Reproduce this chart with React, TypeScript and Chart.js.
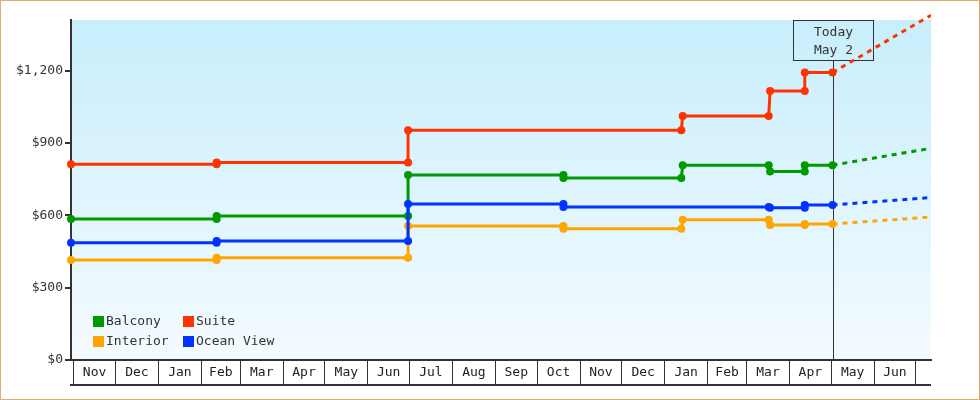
import { useEffect, useRef } from "react";
import { Chart, registerables } from "chart.js";

Chart.register(...registerables);

// price history, one date/price pair per point (jumps use two points)
const seriesLabels = ["Balcony", "Suite", "Interior", "Ocean View"];

const balconyDates = ["2016-10-30", "2017-02-12", "2017-02-12", "2017-06-30", "2017-06-30", "2017-10-20", "2017-10-20", "2018-01-13", "2018-01-14", "2018-03-17", "2018-03-18", "2018-04-12", "2018-04-12", "2018-05-02"];
const balconyPrices = [585, 585, 597, 597, 767, 767, 755, 755, 808, 808, 782, 782, 808, 808];

const suiteDates = ["2016-10-30", "2017-02-12", "2017-02-12", "2017-06-30", "2017-06-30", "2018-01-13", "2018-01-14", "2018-03-17", "2018-03-18", "2018-04-12", "2018-04-12", "2018-05-02"];
const suitePrices = [812, 812, 819, 819, 953, 953, 1012, 1012, 1116, 1116, 1192, 1192];

const interiorDates = ["2016-10-30", "2017-02-12", "2017-02-12", "2017-06-30", "2017-06-30", "2017-10-20", "2017-10-20", "2018-01-13", "2018-01-14", "2018-03-17", "2018-03-18", "2018-04-12", "2018-04-12", "2018-05-02"];
const interiorPrices = [415, 415, 424, 424, 556, 556, 544, 544, 582, 582, 560, 560, 564, 564];

const oceanDates = ["2016-10-30", "2017-02-12", "2017-02-12", "2017-06-30", "2017-06-30", "2017-10-20", "2017-10-20", "2018-03-17", "2018-03-18", "2018-04-12", "2018-04-12", "2018-05-02"];
const oceanPrices = [486, 486, 494, 494, 647, 647, 635, 635, 631, 631, 643, 643];

// dashed forecast from today to the right edge
const projectionEnd = "2018-07-12";
const projectedPrices = [878, 1430, 593, 674];

const monthLabels = ["Nov", "Dec", "Jan", "Feb", "Mar", "Apr", "May", "Jun", "Jul", "Aug", "Sep", "Oct", "Nov", "Dec", "Jan", "Feb", "Mar", "Apr", "May", "Jun"];
const firstMonth = "2016-11-01";
const axisStart = "2016-10-30";
const axisEnd = "2018-07-12";
const yTicks = [0, 300, 600, 900, 1200];
const yMax = 1410;

const todayDate = "2018-05-02";
const todayText = ["Today", "May 2"];

const colors = ["#009900", "#ff3300", "#ffa500", "#0033ff"];
const FONT = "'DejaVu Sans Mono', monospace";
const INK = "#333";

const DAY = 86400000;
const dayOf = (s: string) => (Date.parse(s) - Date.parse(firstMonth)) / DAY;

const App = () => {
  const chartRef = useRef<HTMLCanvasElement>(null);

  useEffect(() => {
    document.body.style.margin = "0";
    const ctx = chartRef.current!.getContext("2d")!;

    const base = new Date(firstMonth);
    const boundaries: number[] = [];
    for (let i = 0; i <= monthLabels.length; i++) {
      const d = Date.UTC(base.getUTCFullYear(), base.getUTCMonth() + i, 1);
      boundaries.push((d - Date.parse(firstMonth)) / DAY);
    }
    const labelMap = new Map<number, string>();
    monthLabels.forEach((m, i) => labelMap.set((boundaries[i] + boundaries[i + 1]) / 2, m));
    const boundarySet = new Set(boundaries);
    const xTicks = [...boundaries, ...labelMap.keys()].sort((a, b) => a - b);

    const dates = [balconyDates, suiteDates, interiorDates, oceanDates];
    const prices = [balconyPrices, suitePrices, interiorPrices, oceanPrices];
    const today = dayOf(todayDate);

    const history = seriesLabels.map((label, i) => ({
      label,
      data: dates[i].map((d, j) => ({ x: dayOf(d), y: prices[i][j] })),
      borderColor: colors[i],
      backgroundColor: colors[i],
      borderWidth: 3,
      pointRadius: 4,
      pointHoverRadius: 4,
      pointBorderWidth: 0,
      tension: 0,
      order: label === "Ocean View" ? 0 : 1,
      clip: { left: 6, top: 8, right: 0, bottom: 0 },
    }));

    const forecast = seriesLabels.map((_, i) => ({
      label: "",
      data: [
        { x: today, y: prices[i][prices[i].length - 1] },
        { x: dayOf(projectionEnd), y: projectedPrices[i] },
      ],
      borderColor: colors[i],
      borderWidth: 3,
      borderDash: [5, 5],
      pointRadius: 0,
      tension: 0,
      order: 2,
      clip: { left: 0, top: 8, right: 0, bottom: 0 },
    }));

    const background = {
      id: "background",
      beforeDraw(chart: any) {
        const { ctx: c, chartArea: a } = chart;
        const g = c.createLinearGradient(0, a.top, 0, a.bottom);
        g.addColorStop(0, "#c8eefc");
        g.addColorStop(1, "#f4fbff");
        c.save();
        c.fillStyle = g;
        c.fillRect(a.left, a.top, a.right - a.left, a.bottom - a.top);
        c.restore();
      },
    };

    const todayMarker = {
      id: "todayMarker",
      beforeDatasetsDraw(chart: any) {
        const { ctx: c, chartArea: a, scales } = chart;
        const x = Math.round(scales.x.getPixelForValue(today)) + 0.5;
        const top = a.top + 0.5;
        c.save();
        c.strokeStyle = INK;
        c.lineWidth = 1;
        c.strokeRect(x - 40, top, 80, 40);
        c.beginPath();
        c.moveTo(x, top + 40);
        c.lineTo(x, a.bottom);
        c.stroke();
        c.fillStyle = INK;
        c.font = `13px ${FONT}`;
        c.textAlign = "center";
        c.textBaseline = "middle";
        c.fillText(todayText[0], x, a.top + 12.5);
        c.fillText(todayText[1], x, a.top + 30.5);
        c.restore();
      },
    };

    const extras = {
      id: "extras",
      afterDraw(chart: any) {
        const { ctx: c, chartArea: a, scales } = chart;
        c.save();
        // bottom edge of the month boxes
        c.strokeStyle = INK;
        c.lineWidth = 2;
        c.beginPath();
        c.moveTo(a.left - 1, scales.x.top + 25);
        c.lineTo(a.right, scales.x.top + 25);
        c.stroke();
        // legend inside the plot, two columns
        c.font = `13px ${FONT}`;
        c.textAlign = "left";
        c.textBaseline = "middle";
        chart.data.datasets
          .filter((d: any) => d.label)
          .forEach((d: any, i: number) => {
            const bx = a.left + 22 + (i % 2) * 90;
            const by = a.bottom - 44 + Math.floor(i / 2) * 20;
            c.fillStyle = d.borderColor;
            c.fillRect(bx, by, 11, 11);
            c.fillStyle = INK;
            c.fillText(d.label, bx + 13, by + 6);
          });
        c.restore();
      },
    };

    const chart = new Chart(ctx, {
      type: "line",
      data: { datasets: [...history, ...forecast] as any },
      options: {
        responsive: true,
        maintainAspectRatio: false,
        animation: false,
        events: [],
        layout: { padding: { top: 19, right: 48, left: 0, bottom: 0 } },
        font: { family: FONT, size: 13 },
        plugins: {
          legend: { display: false },
          tooltip: { enabled: false },
        },
        scales: {
          x: {
            type: "linear",
            min: dayOf(axisStart),
            max: dayOf(axisEnd),
            afterBuildTicks: (s: any) => {
              s.ticks = xTicks.map((v) => ({ value: v }));
            },
            afterFit: (s: any) => {
              s.height = 39;
            },
            border: { color: INK, width: 2 },
            grid: {
              drawOnChartArea: false,
              tickLength: 25,
              lineWidth: 1,
              color: (c: any) => (c.tick && boundarySet.has(c.tick.value) ? INK : "rgba(0,0,0,0)"),
            },
            ticks: {
              autoSkip: false,
              maxRotation: 0,
              padding: -20,
              color: "#222",
              font: { family: FONT, size: 13 },
              callback: (v: any) => labelMap.get(Number(v)) ?? "",
            },
          },
          y: {
            min: 0,
            max: yMax,
            afterBuildTicks: (s: any) => {
              s.ticks = yTicks.map((v) => ({ value: v }));
            },
            afterFit: (s: any) => {
              s.width = 70;
            },
            border: { color: INK, width: 2 },
            grid: {
              drawOnChartArea: false,
              tickLength: 6,
              lineWidth: 2,
              color: INK,
            },
            ticks: {
              padding: 2,
              color: INK,
              font: { family: FONT, size: 13 },
              callback: (v: any) => "$" + Number(v).toLocaleString("en-US"),
            },
          },
        },
      },
      plugins: [background, todayMarker, extras],
    });

    return () => {
      chart.destroy();
    };
  }, []);

  return (
    <div
      style={{
        width: 980,
        height: 400,
        border: "1px solid #e9a96b",
        boxSizing: "border-box",
        background: "#fff",
      }}
    >
      <div style={{ position: "relative", width: 978, height: 398 }}>
        <canvas ref={chartRef}></canvas>
      </div>
    </div>
  );
};

export default App;
